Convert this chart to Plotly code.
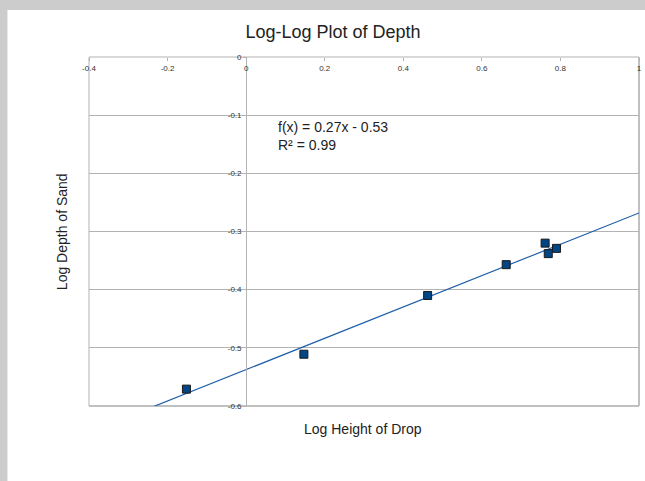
import numpy as np
import plotly.graph_objects as go

# Data (log10 values)
log_height = [-0.152, 0.147, 0.462, 0.662, 0.761, 0.769, 0.790]
log_depth = [-0.571, -0.511, -0.410, -0.357, -0.320, -0.338, -0.329]

title_text = "Log-Log Plot of Depth"
x_title = "Log Height of Drop"
y_title = "Log Depth of Sand"
fit_label = "f(x) = 0.27x - 0.53<br>R² = 0.99"

x_ticks = [-0.4, -0.2, 0, 0.2, 0.4, 0.6, 0.8, 1]
y_ticks = [0, -0.1, -0.2, -0.3, -0.4, -0.5, -0.6]
x_range = [-0.4, 1.0]
y_range = [-0.6, 0.0]

# Linear trend line from the data
slope, intercept = np.polyfit(log_height, log_depth, 1)
tx = np.array(x_range)
ty = slope * tx + intercept

W, H = 645, 481
L, R, T, B = 89, 3, 57, 75
pw, ph = W - L - R, H - T - B

def px_x(p):
    return (p - L) / pw

def px_y(p):
    return (H - B - p) / ph

fig = go.Figure()
fig.add_trace(go.Scatter(x=tx, y=ty, mode="lines",
                         line=dict(color="#1f5fa8", width=1.2),
                         hoverinfo="skip", showlegend=False))
fig.add_trace(go.Scatter(x=log_height, y=log_depth, mode="markers",
                         marker=dict(symbol="square", size=8, color="#004586",
                                     line=dict(color="#1a1a1a", width=1)),
                         showlegend=False))

tick_font = dict(family="Liberation Sans, Arial, sans-serif", size=8, color="#333333")

fig.update_layout(
    width=W, height=H,
    margin=dict(l=L, r=R, t=T, b=B, pad=0),
    paper_bgcolor="#cccccc",
    plot_bgcolor="white",
    showlegend=False,
    title=dict(text=title_text, x=333 / W, xref="container", xanchor="center",
               y=1 - 32 / H, yref="container", yanchor="middle",
               font=dict(family="Liberation Sans, Arial, sans-serif", size=18, color="#222222")),
    xaxis=dict(range=x_range, side="bottom", anchor="free", position=1,
               tickvals=x_ticks,
               ticktext=[("%g" % v) for v in x_ticks],
               ticks="outside", ticklen=3,
               tickcolor="#b3b3b3", showgrid=False, zeroline=False,
               showline=False, tickfont=tick_font, fixedrange=True),
    yaxis=dict(range=y_range, tickvals=y_ticks,
               ticktext=[("%g" % v) for v in y_ticks],
               anchor="free", position=(0 - x_range[0]) / (x_range[1] - x_range[0]),
               ticks="outside", ticklen=3, tickcolor="#b3b3b3",
               showgrid=True, gridcolor="#b3b3b3", gridwidth=1,
               zeroline=False, showline=True, linecolor="#b3b3b3", linewidth=1,
               tickfont=tick_font, fixedrange=True),
    shapes=[
        dict(type="rect", xref="paper", yref="paper", x0=px_x(7), x1=2,
             y0=-1, y1=px_y(10), fillcolor="white", line=dict(width=0), layer="below"),
        dict(type="rect", xref="paper", yref="paper", x0=0, x1=1, y0=0, y1=1,
             line=dict(color="#b3b3b3", width=1), layer="below"),
        dict(type="line", xref="paper", yref="paper", x0=1, x1=1, y0=0, y1=1,
             line=dict(color="#c0c0c0", width=2), layer="below"),
        dict(type="line", xref="paper", yref="paper", x0=0, x1=1, y0=0, y1=0,
             line=dict(color="#c0c0c0", width=2), layer="below"),
    ],
    annotations=[
        dict(text=x_title, xref="paper", yref="paper", x=px_x(364), y=px_y(429),
             xanchor="center", yanchor="middle", showarrow=False,
             font=dict(family="Liberation Sans, Arial, sans-serif", size=14, color="#222222")),
        dict(text=y_title, xref="paper", yref="paper", x=px_x(62), y=px_y(232),
             xanchor="center", yanchor="middle", showarrow=False, textangle=-90,
             font=dict(family="Liberation Sans, Arial, sans-serif", size=14, color="#222222")),
        dict(text=fit_label, xref="paper", yref="paper", x=px_x(277), y=px_y(136),
             xanchor="left", yanchor="middle", align="left", showarrow=False,
             font=dict(family="Liberation Sans, Arial, sans-serif", size=14, color="#222222")),
    ],
)

fig.write_html("out.html")
